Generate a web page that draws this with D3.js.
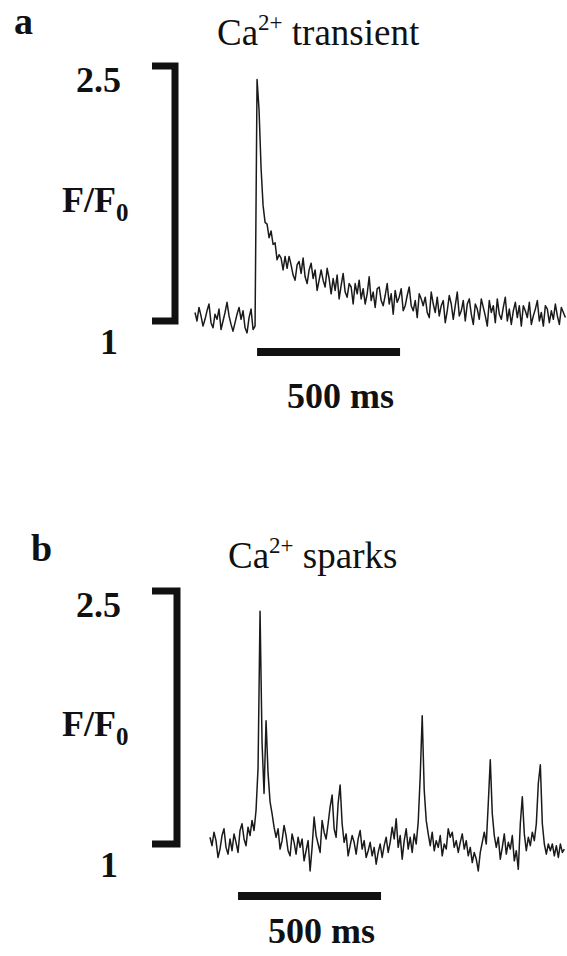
<!DOCTYPE html>
<html>
<head>
<meta charset="utf-8">
<script src="https://cdn.jsdelivr.net/npm/d3@7"></script>
<style>
  body { margin: 0; background: #fff; }
  svg { display: block; }
  text { font-family: "Liberation Serif", "Times New Roman", serif; fill: #111; }
</style>
</head>
<body>
<script>
// F/F0 traces, one sample every 7 ms
const sampleMs = 7;
const scaleBarMs = 500;
const yDomain = [1, 2.5];
const yTickLabels = ["2.5", "1"];
const panelLetters = ["a", "b"];
const panelTitles = ["transient", "sparks"];

const transientValues = [
  1.05, 1.00, 1.08, 1.03, 0.97, 1.01, 1.06, 1.10, 0.99, 0.96,
  1.04, 1.01, 1.07, 0.95, 1.00, 1.05, 1.11, 1.03, 0.98, 0.94,
  0.99, 1.04, 1.08, 1.01, 1.06, 0.96, 0.93, 1.02, 1.07, 0.95,
  0.97, 2.42, 2.24, 1.90, 1.68, 1.58, 1.57, 1.49, 1.53, 1.45,
  1.46, 1.36, 1.39, 1.37, 1.30, 1.38, 1.31, 1.38, 1.33, 1.27,
  1.24, 1.33, 1.35, 1.28, 1.37, 1.26, 1.22, 1.30, 1.34, 1.25,
  1.30, 1.18, 1.24, 1.30, 1.24, 1.20, 1.31, 1.25, 1.16, 1.25,
  1.18, 1.27, 1.13, 1.21, 1.28, 1.17, 1.14, 1.22, 1.20, 1.10,
  1.22, 1.16, 1.24, 1.13, 1.19, 1.10, 1.16, 1.26, 1.12, 1.17,
  1.08, 1.19, 1.20, 1.12, 1.09, 1.15, 1.22, 1.10, 1.16, 1.04,
  1.18, 1.11, 1.14, 1.19, 1.06, 1.09, 1.15, 1.20, 1.09, 1.06,
  1.12, 1.02, 1.16, 1.13, 1.09, 1.14, 1.05, 1.02, 1.17, 1.10,
  1.05, 1.14, 1.03, 1.09, 1.12, 0.99, 1.06, 1.15, 1.10, 1.01,
  1.09, 1.17, 1.03, 1.06, 1.12, 1.00, 1.10, 1.13, 1.04, 0.98,
  1.10, 1.07, 1.01, 1.13, 1.08, 1.03, 0.97, 1.12, 1.05, 1.09,
  0.99, 1.13, 1.04, 1.01, 1.08, 1.14, 1.00, 1.07, 0.98, 1.06,
  1.11, 1.02, 1.09, 0.97, 1.09, 1.06, 1.02, 1.11, 0.98, 1.03,
  1.07, 1.12, 1.00, 1.05, 0.97, 1.09, 1.07, 0.99, 1.06, 1.01,
  1.10, 1.03, 0.98, 1.08, 1.05, 1.02
];

const sparkValues = [
  1.04, 0.99, 1.07, 1.02, 0.92, 0.97, 1.05, 1.09, 0.98, 0.94,
  1.03, 0.96, 1.06, 1.01, 0.95, 1.08, 1.12, 1.03, 0.99, 1.10,
  1.05, 1.14, 1.08, 1.20, 1.45, 2.38, 1.60, 1.30, 1.73, 1.42,
  1.25, 1.18, 1.10, 1.04, 1.09, 0.97, 1.02, 1.11, 1.05, 0.96,
  0.93, 1.06, 1.01, 0.94, 1.04, 0.98, 1.03, 0.90, 0.96, 1.02,
  0.84, 0.98, 1.16, 1.05, 1.00, 0.95, 1.14, 1.07, 1.03, 1.12,
  1.22, 1.29, 1.09, 1.04, 1.24, 1.35, 1.12, 1.01, 1.06, 0.93,
  0.99, 1.05, 1.01, 0.94, 1.03, 1.08, 0.97, 1.02, 0.92, 0.96,
  1.01, 0.93, 0.98, 0.88, 0.95, 1.00, 0.92, 0.99, 1.04, 0.95,
  1.01, 1.10, 1.03, 1.15, 0.98, 1.05, 0.91, 1.02, 1.09, 0.97,
  1.04, 0.95, 1.06, 1.00, 1.13, 1.40, 1.76, 1.32, 1.14, 1.06,
  0.99, 1.07, 0.96, 1.02, 0.98, 1.05, 0.93, 1.00, 0.97, 1.09,
  1.04, 1.07, 0.98, 1.02, 0.95, 1.01, 1.06, 0.97, 1.02, 0.93,
  0.98, 0.89, 0.95, 0.91, 0.84, 0.95, 1.01, 1.07, 1.00, 1.24,
  1.50, 1.18, 1.05, 0.98, 1.04, 0.91, 0.98, 1.06, 0.94, 1.01,
  0.97, 1.05, 0.90, 0.96, 0.85, 1.12, 1.28, 1.06, 0.96, 1.04,
  0.99, 1.07, 1.02, 1.12, 1.36, 1.47, 1.12, 1.00, 0.94, 1.00,
  0.96, 1.00, 0.93, 0.99, 0.92, 1.00, 0.95, 0.97
];

const panels = [
  { values: transientValues, letterX: 14, letterY: 34, letterSize: 38, titleX: 217, titleY: 45,
    x0: 195, yTop: 66, yBottom: 321, bracketX: 175, barStartMs: 217, barY: 352, labelY: 408 },
  { values: sparkValues, letterX: 31, letterY: 561, letterSize: 38, titleX: 228, titleY: 568,
    x0: 210, yTop: 591, yBottom: 844, bracketX: 177, barStartMs: 98, barY: 896, labelY: 943 }
];

const svg = d3.select("body").append("svg")
  .attr("width", 567)
  .attr("height", 956);

panels.forEach((p, k) => {
  const g = svg.append("g");
  const x = d3.scaleLinear().domain([0, scaleBarMs]).range([p.x0, p.x0 + 143]);
  const y = d3.scaleLinear().domain(yDomain).range([p.yBottom, p.yTop]);

  g.append("text")
    .attr("x", p.letterX).attr("y", p.letterY)
    .style("font-weight", "bold").style("font-size", p.letterSize + "px")
    .text(panelLetters[k]);

  const title = g.append("text")
    .attr("x", p.titleX).attr("y", p.titleY)
    .style("font-size", "37px");
  title.append("tspan").text("Ca");
  title.append("tspan").attr("dy", -15).style("font-size", "23px").text("2+");
  title.append("tspan").attr("dy", 15).text(" " + panelTitles[k]);

  // bracket used as the y scale
  g.append("path")
    .attr("d", `M152,${y(yDomain[1])}H${p.bracketX}V${y(yDomain[0])}H152`)
    .attr("fill", "none").attr("stroke", "#111")
    .attr("stroke-width", 7).attr("stroke-linejoin", "miter");

  g.append("text")
    .attr("x", 121).attr("y", y(yDomain[1]) + 26)
    .attr("text-anchor", "end")
    .style("font-weight", "bold").style("font-size", "36px")
    .text(yTickLabels[0]);
  g.append("text")
    .attr("x", 118).attr("y", y(yDomain[0]) + 33)
    .attr("text-anchor", "end")
    .style("font-weight", "bold").style("font-size", "36px")
    .text(yTickLabels[1]);

  const ff = g.append("text")
    .attr("x", 62).attr("y", y(1.64))
    .style("font-weight", "bold").style("font-size", "36px");
  ff.append("tspan").text("F/F");
  ff.append("tspan").attr("dy", 9).style("font-size", "25px").text("0");

  g.append("path")
    .datum(p.values)
    .attr("fill", "none").attr("stroke", "#1a1a1a")
    .attr("stroke-width", 1.5).attr("stroke-linejoin", "round")
    .attr("d", d3.line().x((d, i) => x(i * sampleMs)).y(d => y(d)));

  // 500 ms scale bar
  g.append("line")
    .attr("x1", x(p.barStartMs)).attr("x2", x(p.barStartMs + scaleBarMs))
    .attr("y1", p.barY).attr("y2", p.barY)
    .attr("stroke", "#111").attr("stroke-width", 8);

  g.append("text")
    .attr("x", (x(p.barStartMs) + x(p.barStartMs + scaleBarMs)) / 2 + 12)
    .attr("y", p.labelY)
    .attr("text-anchor", "middle")
    .style("font-weight", "bold").style("font-size", "36px")
    .text(scaleBarMs + " ms");
});
</script>
</body>
</html>
